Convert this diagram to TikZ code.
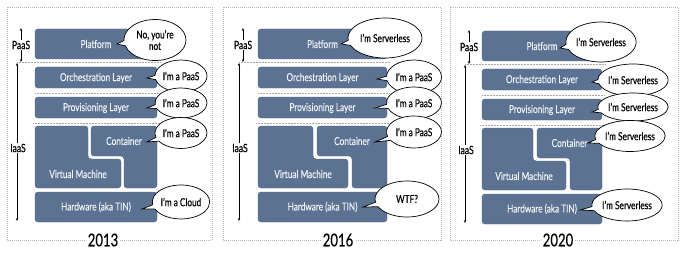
\documentclass[tikz,border=0pt]{standalone}
\usepackage{fontspec}
\setmainfont{Lato}[FakeStretch=0.75, FakeBold=0.4]
\usetikzlibrary{shapes.callouts,arrows.meta}
\definecolor{boxc}{HTML}{5B7292}
\definecolor{boxd}{HTML}{4F6585}
\definecolor{txtc}{HTML}{EDF0F4}
\definecolor{framec}{HTML}{B8B8B8}
\tikzset{
 layerbox/.style={fill=boxc, draw=boxd, line width=0.4pt, rounded corners=3pt},
 lbl/.style={text=txtc, font=\fontsize{11}{13}\selectfont, inner sep=0pt},
 bubble/.style={ellipse callout, draw=black, fill=white, line width=0.7pt, inner sep=0pt, align=center, font=\fontsize{11}{11.5}\selectfont},
 sep/.style={draw=gray!70, line width=0.6pt, dash pattern=on 0.7pt off 0.8pt},
 frame/.style={draw=framec, line width=0.6pt, dash pattern=on 1pt off 1pt},
 side/.style={font=\fontsize{11.5}{13}\selectfont, inner sep=1pt},
 year/.style={font=\fontsize{17.5}{19}\selectfont, fill=white, inner sep=2pt},
 arr/.style={-{Stealth[length=3pt,width=2.4pt]}, line width=0.5pt},
}
% #1 prefix, #2 box left, #3 box right, #4 VM column right, #5 container left,
% #6 VM bottom right, #7 container step x, #8 IaaS arrow x
\newcommand\layerstack[8]{%
  \path[layerbox] (#2,29) rectangle (#3,59);
  \node[lbl] (#1plat) at ({(#2+#3)/2},44) {Platform};
  \draw[sep] (#8,62) -- ({#3+3},62);
  \path[layerbox] (#2,67) rectangle (#3,88);
  \node[lbl] (#1orch) at ({(#2+#3)/2},78) {Orchestration Layer};
  \draw[sep] (#2,93) -- ({#3+3},93);
  \path[layerbox] (#2,97) rectangle (#3,118);
  \node[lbl] (#1prov) at ({(#2+#3)/2},108) {Provisioning Layer};
  \draw[sep] ({#2-2},123) -- ({#3+3},123);
  \path[layerbox] (#2,126) -- (#4,126) -- (#4,159) -- (#6,159) -- (#6,188) -- (#2,188) -- cycle;
  \path[layerbox] (#5,126) -- (#3,126) -- (#3,188) -- (#7,188) -- (#7,156) -- (#5,156) -- cycle;
  \node[lbl] (#1cont) at ({(#5+#3)/2},141) {Container};
  \node[lbl] (#1vm) at ({(#2+#6)/2},174) {Virtual Machine};
  \path[layerbox] (#2,192) rectangle (#3,222);
  \node[lbl] (#1hw) at ({(#2+#3)/2},207) {Hardware (aka TIN)};
  % side labels
  \node[side] (#1paas) at ({#8+4},45) {PaaS};
  \coordinate (#1pt) at ({#8+4},28);
  \coordinate (#1pb) at ({#8+4},62);
  \draw[arr] (#1paas) -- (#1pt);
  \draw[arr] (#1paas) -- (#1pb);
  \node[side] (#1iaas) at ({#8+1},148) {IaaS};
  \coordinate (#1it) at (#8,63);
  \coordinate (#1ib) at (#8,221);
  \draw[arr] (#1iaas.north -| #1it) -- (#1it);
  \draw[arr] (#1iaas.south -| #1ib) -- (#1ib);
}
\begin{document}
\begin{tikzpicture}[x=1pt,y=-1pt]
\useasboundingbox (0,0) rectangle (680,254);
% ---------- 2013 ----------
\draw[frame] (7,7) rectangle (212,240);
\node[year] (y13) at (103,240) {2013};
\layerstack{a}{35}{157}{88}{91}{121}{124}{17}
\coordinate (ap1) at (117,44);
\coordinate (ap2) at (147,78);
\coordinate (ap3) at (147,108);
\coordinate (ap4) at (147,142);
\coordinate (ap5) at (142,209);
\node[bubble, minimum width=62pt, minimum height=41pt, callout absolute pointer={(ap1)}] (ab1) at (155,40) {No, you're\\not};
\node[bubble, minimum width=52pt, minimum height=32pt, callout absolute pointer={(ap2)}] (ab2) at (181,76) {I'm a PaaS};
\node[bubble, minimum width=52pt, minimum height=30pt, callout absolute pointer={(ap3)}] (ab3) at (181,103) {I'm a PaaS};
\node[bubble, minimum width=52pt, minimum height=31pt, callout absolute pointer={(ap4)}] (ab4) at (181,133) {I'm a PaaS};
\node[bubble, minimum width=56pt, minimum height=34pt, callout absolute pointer={(ap5)}] (ab5) at (181,202) {I'm a Cloud};
% ---------- 2016 ----------
\draw[frame] (223,7) rectangle (441,240);
\node[year] (y16) at (338,240) {2016};
\layerstack{b}{258}{387}{313}{317}{348}{352}{239}
\coordinate (bp1) at (341,44);
\coordinate (bp2) at (377,79);
\coordinate (bp3) at (375,108);
\coordinate (bp4) at (375,142);
\coordinate (bp5) at (363,207);
\node[bubble, minimum width=74pt, minimum height=40pt, callout absolute pointer={(bp1)}] (bb1) at (385,38) {I'm Serverless};
\node[bubble, minimum width=55pt, minimum height=34pt, callout absolute pointer={(bp2)}] (bb2) at (414,77) {I'm a PaaS};
\node[bubble, minimum width=55pt, minimum height=32pt, callout absolute pointer={(bp3)}] (bb3) at (414,103) {I'm a PaaS};
\node[bubble, minimum width=55pt, minimum height=32pt, callout absolute pointer={(bp4)}] (bb4) at (414,132) {I'm a PaaS};
\node[bubble, minimum width=64pt, minimum height=36pt, callout absolute pointer={(bp5)}] (bb5) at (407,199) {WTF?};
% ---------- 2020 ----------
\draw[frame] (450,7) rectangle (678,240);
\node[year] (y20) at (558,240) {2020};
\begin{scope}[yshift=-2pt]
\layerstack{c}{482}{602}{533}{537}{566}{570}{465}
\end{scope}
\coordinate (cp1) at (560,48);
\coordinate (cp2) at (592,82);
\coordinate (cp3) at (592,112);
\coordinate (cp4) at (588,143);
\coordinate (cp5) at (580,210);
\node[bubble, minimum width=68pt, minimum height=40pt, callout absolute pointer={(cp1)}] (cb1) at (601,42) {I'm Serverless};
\node[bubble, minimum width=67pt, minimum height=32pt, callout absolute pointer={(cp2)}] (cb2) at (633,80) {I'm Serverless};
\node[bubble, minimum width=67pt, minimum height=28pt, callout absolute pointer={(cp3)}] (cb3) at (633,107) {I'm Serverless};
\node[bubble, minimum width=66pt, minimum height=31pt, callout absolute pointer={(cp4)}] (cb4) at (630,136) {I'm Serverless};
\node[bubble, minimum width=67pt, minimum height=32pt, callout absolute pointer={(cp5)}] (cb5) at (627,205) {I'm Serverless};
\end{tikzpicture}
\end{document}
